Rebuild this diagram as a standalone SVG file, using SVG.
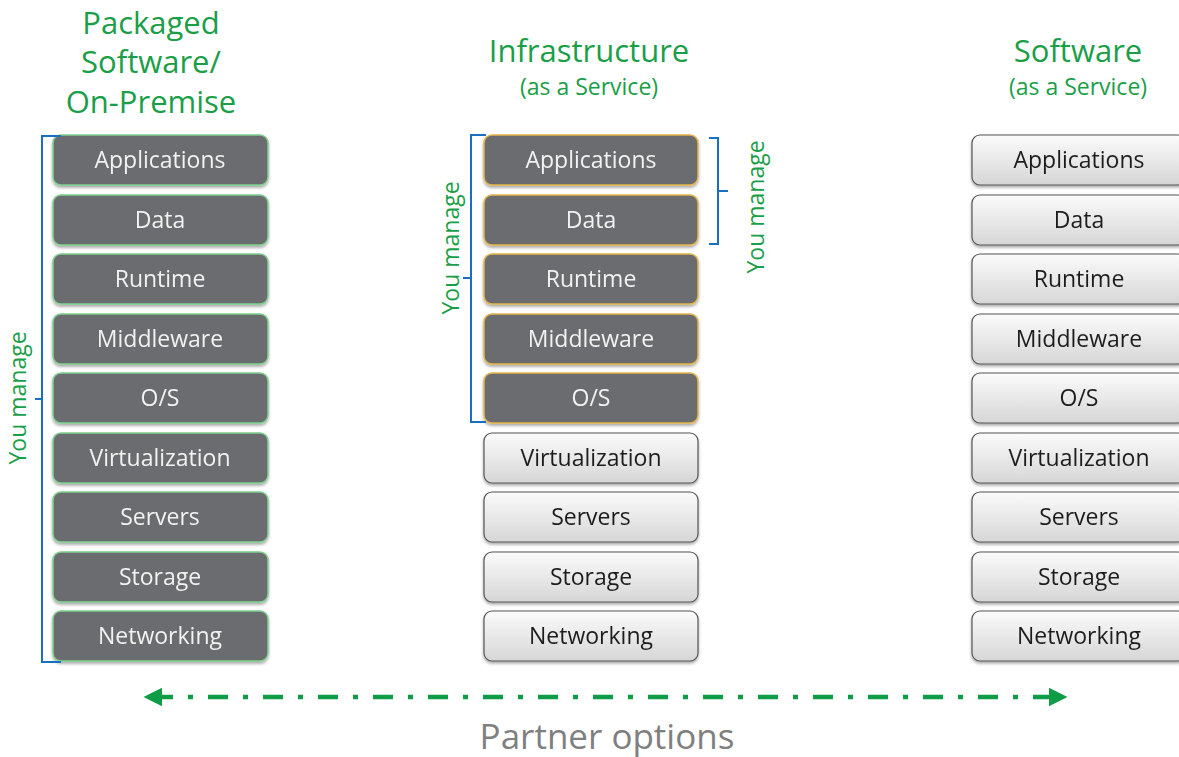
<svg xmlns="http://www.w3.org/2000/svg" width="1179" height="757" viewBox="0 0 1179 757">
<style>
.h{font-family:"Open Sans","Noto Sans",sans-serif;fill:#1a9e48;text-anchor:middle}
.t{font-family:"Open Sans","Noto Sans",sans-serif;font-size:23px;text-anchor:middle}
.d rect{fill:#6b6c6f}
.d text{fill:#f2f2f2}
.g rect{stroke:#7fcf8f;stroke-width:1.5}
.o rect{stroke:#e3b54c;stroke-width:1.5}
.l rect{fill:url(#lg);stroke:#555;stroke-width:1.2}
.l text{fill:#1e1e1e}
.br{fill:none;stroke:#1a6fc0;stroke-width:2}
.ym{font-family:"Open Sans","Noto Sans",sans-serif;font-size:23px;fill:#1a9e48;text-anchor:middle}
</style>
<defs>
<linearGradient id="lg" x1="0" y1="0" x2="0" y2="1">
<stop offset="0" stop-color="#fbfbfb"/>
<stop offset="1" stop-color="#d6d6d6"/>
</linearGradient>
<filter id="sh" x="-5%" y="-10%" width="110%" height="130%">
<feDropShadow dx="0" dy="2" stdDeviation="1.5" flood-color="#000" flood-opacity="0.35"/>
</filter>
<marker id="ah" viewBox="0 0 10 10" refX="5" refY="5" markerWidth="4.2" markerHeight="4.2" orient="auto-start-reverse">
<path d="M0,0 L10,5 L0,10 z" fill="#0e9c46"/>
</marker>
</defs>
<rect width="1179" height="757" fill="#fff"/>

<g id="headers">
<text class="h" font-size="31" x="151" y="34">Packaged</text>
<text class="h" font-size="31" x="151" y="73">Software/</text>
<text class="h" font-size="31" x="151" y="113">On-Premise</text>
<text class="h" font-size="31" x="589" y="62">Infrastructure</text>
<text class="h" font-size="23" x="589" y="95">(as a Service)</text>
<text class="h" font-size="31" x="1078" y="62">Software</text>
<text class="h" font-size="23" x="1078" y="95">(as a Service)</text>
</g>

<g id="col1" filter="url(#sh)">
<g id="c1-applications" class="d g"><rect x="53" y="135" width="215" height="50" rx="8"/><text class="t" x="160" y="168">Applications</text></g>
<g id="c1-data" class="d g"><rect x="53" y="195" width="215" height="50" rx="8"/><text class="t" x="160" y="228">Data</text></g>
<g id="c1-runtime" class="d g"><rect x="53" y="254" width="215" height="50" rx="8"/><text class="t" x="160" y="287">Runtime</text></g>
<g id="c1-middleware" class="d g"><rect x="53" y="314" width="215" height="50" rx="8"/><text class="t" x="160" y="347">Middleware</text></g>
<g id="c1-os" class="d g"><rect x="53" y="373" width="215" height="50" rx="8"/><text class="t" x="160" y="406">O/S</text></g>
<g id="c1-virtualization" class="d g"><rect x="53" y="433" width="215" height="50" rx="8"/><text class="t" x="160" y="466">Virtualization</text></g>
<g id="c1-servers" class="d g"><rect x="53" y="492" width="215" height="50" rx="8"/><text class="t" x="160" y="525">Servers</text></g>
<g id="c1-storage" class="d g"><rect x="53" y="552" width="215" height="50" rx="8"/><text class="t" x="160" y="585">Storage</text></g>
<g id="c1-networking" class="d g"><rect x="53" y="611" width="215" height="50" rx="8"/><text class="t" x="160" y="644">Networking</text></g>
</g>

<g id="col2" filter="url(#sh)">
<g id="c2-applications" class="d o"><rect x="484" y="135" width="214" height="50" rx="8"/><text class="t" x="591" y="168">Applications</text></g>
<g id="c2-data" class="d o"><rect x="484" y="195" width="214" height="50" rx="8"/><text class="t" x="591" y="228">Data</text></g>
<g id="c2-runtime" class="d o"><rect x="484" y="254" width="214" height="50" rx="8"/><text class="t" x="591" y="287">Runtime</text></g>
<g id="c2-middleware" class="d o"><rect x="484" y="314" width="214" height="50" rx="8"/><text class="t" x="591" y="347">Middleware</text></g>
<g id="c2-os" class="d o"><rect x="484" y="373" width="214" height="50" rx="8"/><text class="t" x="591" y="406">O/S</text></g>
<g id="c2-virtualization" class="l"><rect x="484" y="433" width="214" height="50" rx="8"/><text class="t" x="591" y="466">Virtualization</text></g>
<g id="c2-servers" class="l"><rect x="484" y="492" width="214" height="50" rx="8"/><text class="t" x="591" y="525">Servers</text></g>
<g id="c2-storage" class="l"><rect x="484" y="552" width="214" height="50" rx="8"/><text class="t" x="591" y="585">Storage</text></g>
<g id="c2-networking" class="l"><rect x="484" y="611" width="214" height="50" rx="8"/><text class="t" x="591" y="644">Networking</text></g>
</g>

<g id="col3" filter="url(#sh)">
<g id="c3-applications" class="l"><rect x="972" y="135" width="214" height="50" rx="8"/><text class="t" x="1079" y="168">Applications</text></g>
<g id="c3-data" class="l"><rect x="972" y="195" width="214" height="50" rx="8"/><text class="t" x="1079" y="228">Data</text></g>
<g id="c3-runtime" class="l"><rect x="972" y="254" width="214" height="50" rx="8"/><text class="t" x="1079" y="287">Runtime</text></g>
<g id="c3-middleware" class="l"><rect x="972" y="314" width="214" height="50" rx="8"/><text class="t" x="1079" y="347">Middleware</text></g>
<g id="c3-os" class="l"><rect x="972" y="373" width="214" height="50" rx="8"/><text class="t" x="1079" y="406">O/S</text></g>
<g id="c3-virtualization" class="l"><rect x="972" y="433" width="214" height="50" rx="8"/><text class="t" x="1079" y="466">Virtualization</text></g>
<g id="c3-servers" class="l"><rect x="972" y="492" width="214" height="50" rx="8"/><text class="t" x="1079" y="525">Servers</text></g>
<g id="c3-storage" class="l"><rect x="972" y="552" width="214" height="50" rx="8"/><text class="t" x="1079" y="585">Storage</text></g>
<g id="c3-networking" class="l"><rect x="972" y="611" width="214" height="50" rx="8"/><text class="t" x="1079" y="644">Networking</text></g>
</g>

<g id="brackets">
<path class="br" d="M61,136 H42 V662 H61 M42,399 H35"/>
<text class="ym" transform="translate(26,398) rotate(-90)">You manage</text>
<path class="br" d="M486,135 H471 V422 H486 M471,278 H463"/>
<text class="ym" transform="translate(459,248) rotate(-90)">You manage</text>
<path class="br" d="M709,138 H718 V244 H709 M718,191 H728"/>
<text class="ym" transform="translate(764,207) rotate(-90)">You manage</text>
</g>

<g id="connectors">
<path d="M153,697 H1058" fill="none" stroke="#0e9c46" stroke-width="4.5" stroke-dasharray="20 15 5 15" marker-start="url(#ah)" marker-end="url(#ah)"/>
</g>

<text x="607" y="749" font-family="'Open Sans','Noto Sans',sans-serif" font-size="35" fill="#7f7f7f" text-anchor="middle">Partner options</text>
</svg>
